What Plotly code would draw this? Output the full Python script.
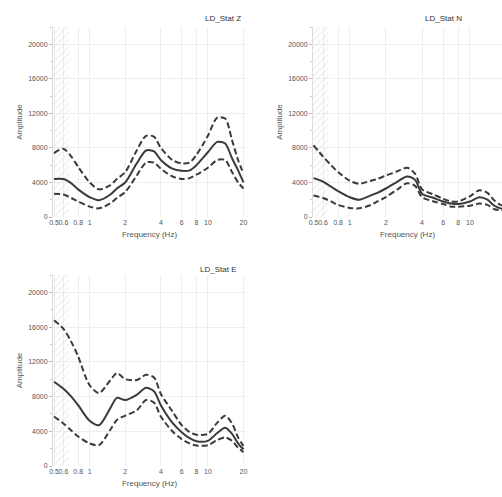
import plotly.graph_objects as go
import math

# ---------------- data (amplitude values in thousands) -------------
freq = [0.5, 0.6, 0.7, 0.8, 1.0, 1.2, 1.5, 1.7, 2, 2.5, 3, 3.5, 4, 5, 6, 7, 8, 10, 12, 14, 16, 18, 20]

z_mid = [4.4, 4.4, 3.9, 3.2, 2.3, 1.95, 2.6, 3.3, 4.0, 6.2, 7.7, 7.6, 6.6, 5.6, 5.35, 5.4, 6.0, 7.5, 8.7, 8.5, 6.8, 5.4, 4.0]
z_hi = [7.4, 7.9, 7.0, 5.8, 4.0, 3.2, 3.7, 4.4, 5.2, 7.7, 9.4, 9.3, 8.0, 6.6, 6.2, 6.3, 7.2, 9.4, 11.5, 11.4, 8.9, 6.6, 5.0]
z_lo = [2.7, 2.6, 2.2, 1.8, 1.2, 1.0, 1.6, 2.2, 2.9, 4.8, 6.3, 6.3, 5.6, 4.7, 4.4, 4.5, 4.9, 5.7, 6.6, 6.6, 5.2, 4.0, 3.3]

n_mid = [4.5, 4.1, 3.5, 3.0, 2.3, 2.0, 2.5, 2.8, 3.3, 4.1, 4.7, 4.3, 2.7, 2.2, 1.8, 1.55, 1.5, 1.8, 2.3, 2.0, 1.3, 1.0, 0.9]
n_hi = [8.3, 7.0, 6.0, 5.2, 4.2, 3.85, 4.2, 4.4, 4.8, 5.3, 5.7, 5.0, 3.2, 2.6, 2.1, 1.8, 1.8, 2.4, 3.1, 2.8, 1.9, 1.4, 1.2]
n_lo = [2.5, 2.2, 1.8, 1.4, 1.05, 1.0, 1.4, 1.8, 2.3, 3.2, 3.9, 3.6, 2.3, 1.8, 1.5, 1.2, 1.2, 1.3, 1.55, 1.4, 0.9, 0.8, 0.7]

e_mid = [9.7, 8.9, 8.0, 7.0, 5.2, 4.7, 6.7, 7.85, 7.6, 8.2, 9.0, 8.6, 7.0, 5.0, 3.9, 3.2, 2.85, 2.9, 3.8, 4.4, 3.7, 2.6, 1.9]
e_hi = [16.8, 15.8, 14.3, 12.6, 9.3, 8.4, 9.9, 10.7, 10.0, 9.9, 10.5, 10.2, 8.3, 6.3, 4.7, 3.9, 3.6, 3.7, 5.0, 5.8, 4.9, 3.3, 2.3]
e_lo = [5.7, 4.9, 4.1, 3.4, 2.6, 2.4, 4.2, 5.3, 5.8, 6.4, 7.6, 7.3, 5.7, 4.0, 3.1, 2.6, 2.35, 2.4, 3.0, 3.3, 2.9, 2.1, 1.6]

titles = ["LD_Stat Z", "LD_Stat N", "LD_Stat E"]
x_tickvals = [0.5, 0.6, 0.8, 1, 2, 4, 6, 8, 10, 20]
x_ticktext = ["0.5", "0.6", "0.8", "1", "2", "4", "6", "8", "10", "20"]
y_tickvals = [0, 4000, 8000, 12000, 16000, 20000]
y_ticktext = ["0", "4000", "8000", "12000", "16000", "20000"]
y_max = 22000
band_lo, band_hi = 0.45, 0.67   # hatched low-frequency band

# ---------------- layout helpers ----------------
W, H = 502, 497
def fx(p):
    return p / W
def fy(p):
    return 1 - p / H

panels = [
    dict(x0=53, x1=246, y0=27, y1=217, xr=(0.49, 21.0), tx=223, ty=18),
    dict(x0=313, x1=502, y0=27, y1=217, xr=(0.495, 18.5), tx=443, ty=18),
    dict(x0=53, x1=246, y0=275, y1=466, xr=(0.49, 21.0), tx=218, ty=269),
]
series = [(z_mid, z_hi, z_lo), (n_mid, n_hi, n_lo), (e_mid, e_hi, e_lo)]

LINE = "#3a3a3a"
TXT = "#555555"
FONT = "Liberation Sans"

fig = go.Figure()
layout = dict(
    width=W, height=H, margin=dict(l=0, r=0, t=0, b=0),
    paper_bgcolor="white", plot_bgcolor="white", showlegend=False,
    font=dict(family=FONT, size=8, color=TXT),
    annotations=[],
)

for i, (p, (mid, hi, lo)) in enumerate(zip(panels, series)):
    sfx = "" if i == 0 else str(i + 1)
    xa, ya = "x" + sfx, "y" + sfx
    # hatched band
    fig.add_trace(go.Scatter(
        x=[band_lo, band_hi, band_hi, band_lo, band_lo],
        y=[0, 0, y_max, y_max, 0],
        fill="toself", mode="none",
        fillcolor="rgba(255,255,255,0)",
        fillpattern=dict(shape="/", fgcolor="#e6dcdc", bgcolor="rgba(255,255,255,0)", size=5, solidity=0.25),
        xaxis=xa, yaxis=ya, hoverinfo="skip"))
    for vals, dash in ((hi, "6px,3px"), (lo, "6px,3px"), (mid, "solid")):
        fig.add_trace(go.Scatter(
            x=freq, y=[v * 1000 for v in vals], mode="lines",
            line=dict(color=LINE, width=2, dash=dash, shape="spline", smoothing=0.8),
            xaxis=xa, yaxis=ya))
    layout["xaxis" + sfx] = dict(
        type="log", range=[math.log10(p["xr"][0]), math.log10(p["xr"][1])],
        domain=[fx(p["x0"]), fx(p["x1"])], anchor=ya,
        tickvals=x_tickvals, ticktext=x_ticktext, tickangle=0,
        tickfont=dict(size=7, color=TXT),
        showgrid=True, gridcolor="#eeeeee", gridwidth=1,
        showline=False, zeroline=False, ticks="", ticklen=2,
        title=dict(text="Frequency (Hz)", font=dict(size=8, color=TXT), standoff=6),
        automargin=False,
    )
    layout["yaxis" + sfx] = dict(
        range=[0, y_max], domain=[fy(p["y1"]), fy(p["y0"])], anchor=xa,
        tickvals=y_tickvals, ticktext=y_ticktext, tickfont=dict(size=7, color=TXT),
        showgrid=True, gridcolor="#eeeeee", gridwidth=1,
        showline=True, linecolor="#dddddd", zeroline=False,
        ticks="outside", ticklen=3, tickcolor="#bbbbbb",
        minor=dict(ticks="outside", ticklen=2, tickcolor="#cccccc", dtick=2000, showgrid=False),
        title=dict(text="Amplitude", font=dict(size=8, color=TXT), standoff=4),
        automargin=False,
    )
    layout["annotations"].append(dict(
        text=titles[i], x=fx(p["tx"]), y=fy(p["ty"]), xref="paper", yref="paper",
        xanchor="center", yanchor="middle", showarrow=False,
        font=dict(size=8, color="#333333", family=FONT)))

fig.update_layout(**layout)
fig.write_html("out.html")
